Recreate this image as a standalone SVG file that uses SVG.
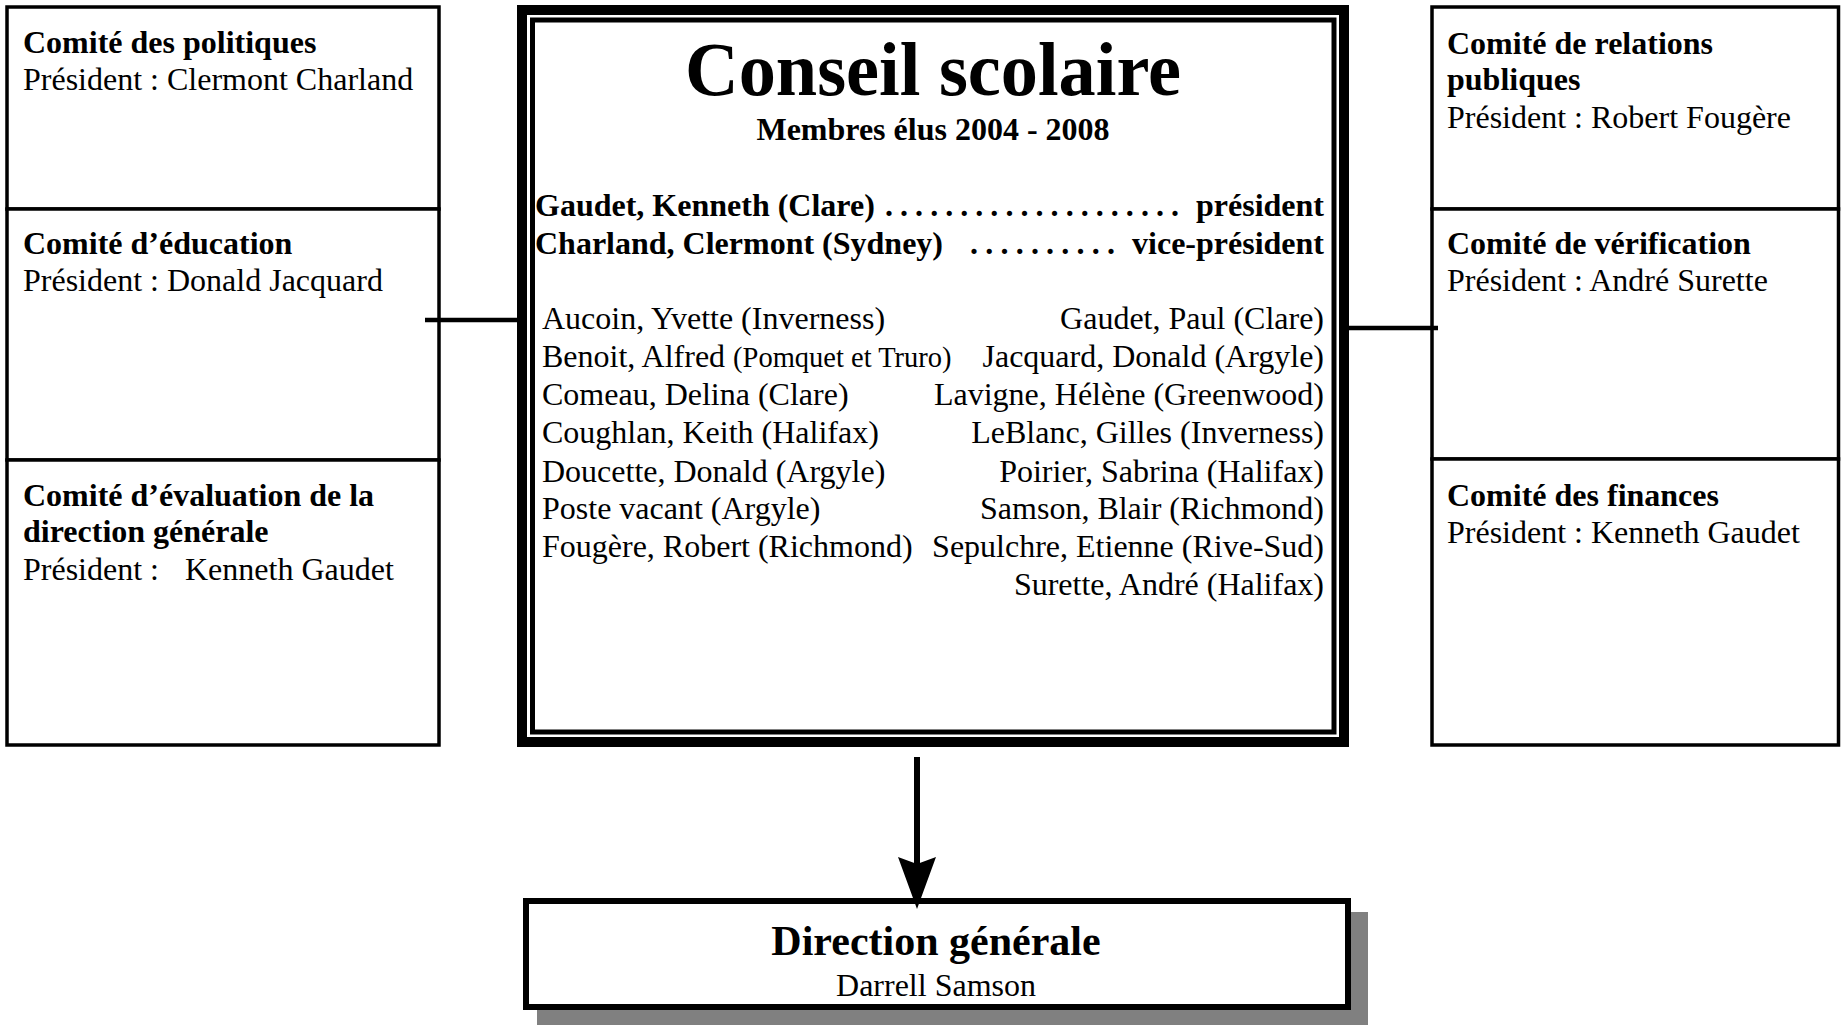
<svg xmlns="http://www.w3.org/2000/svg" width="1843" height="1026" viewBox="0 0 1843 1026">
<style>
  text { font-family: "Liberation Serif", "Times New Roman", serif; fill: #000; }
  .b { font-weight: bold; }
  .t32 { font-size: 32px; }
  .box { fill: #fff; stroke: #000; stroke-width: 3.5; }
  .conn { stroke: #000; stroke-width: 4.5; fill: none; }
  .end { text-anchor: end; }
  .mid { text-anchor: middle; }
</style>
<rect x="0" y="0" width="1843" height="1026" fill="#fff"/>

<g id="comite-politiques">
  <rect class="box" x="7" y="7" width="432" height="202"/>
  <text class="b t32" x="23" y="53">Comité des politiques</text>
  <text class="t32" x="23" y="89.5">Président : Clermont Charland</text>
</g>
<g id="comite-education">
  <rect class="box" x="7" y="209" width="432" height="251"/>
  <text class="b t32" x="23" y="253.5">Comité d’éducation</text>
  <text class="t32" x="23" y="291">Président : Donald Jacquard</text>
</g>
<g id="comite-evaluation">
  <rect class="box" x="7" y="460" width="432" height="285"/>
  <text class="b t32" x="23" y="505.5">Comité d’évaluation de la</text>
  <text class="b t32" x="23" y="542">direction générale</text>
  <text class="t32" x="23" y="580">Président :<tspan x="185">Kenneth Gaudet</tspan></text>
</g>

<g id="comite-relations">
  <rect class="box" x="1432" y="7" width="406.5" height="202"/>
  <text class="b t32" x="1447" y="53.5">Comité de relations</text>
  <text class="b t32" x="1447" y="90">publiques</text>
  <text class="t32" x="1447" y="128">Président : Robert Fougère</text>
</g>
<g id="comite-verification">
  <rect class="box" x="1432" y="209" width="406.5" height="250"/>
  <text class="b t32" x="1447" y="253.5">Comité de vérification</text>
  <text class="t32" x="1447" y="291">Président : André Surette</text>
</g>
<g id="comite-finances">
  <rect class="box" x="1432" y="459" width="406.5" height="286"/>
  <text class="b t32" x="1447" y="505.5">Comité des finances</text>
  <text class="t32" x="1447" y="543">Président : Kenneth Gaudet</text>
</g>

<g id="conseil-scolaire">
  <rect x="522" y="10" width="822" height="732" fill="#fff" stroke="#000" stroke-width="10"/>
  <rect x="532.5" y="20" width="801.5" height="712" fill="none" stroke="#000" stroke-width="5"/>
  <text class="b mid" x="933" y="95" font-size="76" textLength="496" lengthAdjust="spacingAndGlyphs">Conseil scolaire</text>
  <text class="b mid t32" x="933" y="140">Membres élus 2004 - 2008</text>
  <text class="b t32" x="535" y="216">Gaudet, Kenneth (Clare)</text>
  <text class="b t32" x="885" y="216" textLength="294" lengthAdjust="spacing">....................</text>
  <text class="b t32 end" x="1324" y="216">président</text>
  <text class="b t32" x="535" y="254">Charland, Clermont (Sydney)</text>
  <text class="b t32" x="970" y="254" textLength="145" lengthAdjust="spacing">..........</text>
  <text class="b t32 end" x="1324" y="254">vice-président</text>

  <text class="t32" x="542" y="329">Aucoin, Yvette (Inverness)</text>
  <text class="t32" x="542" y="367">Benoit, Alfred <tspan font-size="28.5">(Pomquet et Truro)</tspan></text>
  <text class="t32" x="542" y="405">Comeau, Delina (Clare)</text>
  <text class="t32" x="542" y="443">Coughlan, Keith (Halifax)</text>
  <text class="t32" x="542" y="481.5">Doucette, Donald (Argyle)</text>
  <text class="t32" x="542" y="519">Poste vacant (Argyle)</text>
  <text class="t32" x="542" y="557">Fougère, Robert (Richmond)</text>

  <text class="t32 end" x="1324" y="329">Gaudet, Paul (Clare)</text>
  <text class="t32 end" x="1324" y="367">Jacquard, Donald (Argyle)</text>
  <text class="t32 end" x="1324" y="405">Lavigne, Hélène (Greenwood)</text>
  <text class="t32 end" x="1324" y="443">LeBlanc, Gilles (Inverness)</text>
  <text class="t32 end" x="1324" y="481.5">Poirier, Sabrina (Halifax)</text>
  <text class="t32 end" x="1324" y="519">Samson, Blair (Richmond)</text>
  <text class="t32 end" x="1324" y="557">Sepulchre, Etienne (Rive-Sud)</text>
  <text class="t32 end" x="1324" y="595">Surette, André (Halifax)</text>
</g>

<g id="direction-generale">
  <rect x="537" y="912" width="831" height="113" fill="#808080"/>
  <rect x="526" y="901" width="822" height="106" fill="#fff" stroke="#000" stroke-width="6"/>
  <text class="b mid" x="936" y="955" font-size="42">Direction générale</text>
  <text class="t32 mid" x="936" y="996">Darrell Samson</text>
</g>

<g id="connectors">
  <line class="conn" x1="425" y1="320" x2="518" y2="320"/>
  <line class="conn" x1="1348" y1="328" x2="1438" y2="328"/>
  <line x1="917" y1="757" x2="917" y2="868" stroke="#000" stroke-width="6"/>
  <path d="M898,857 L917,864 L936,857 L917,909 Z" fill="#000"/>
</g>
</svg>
